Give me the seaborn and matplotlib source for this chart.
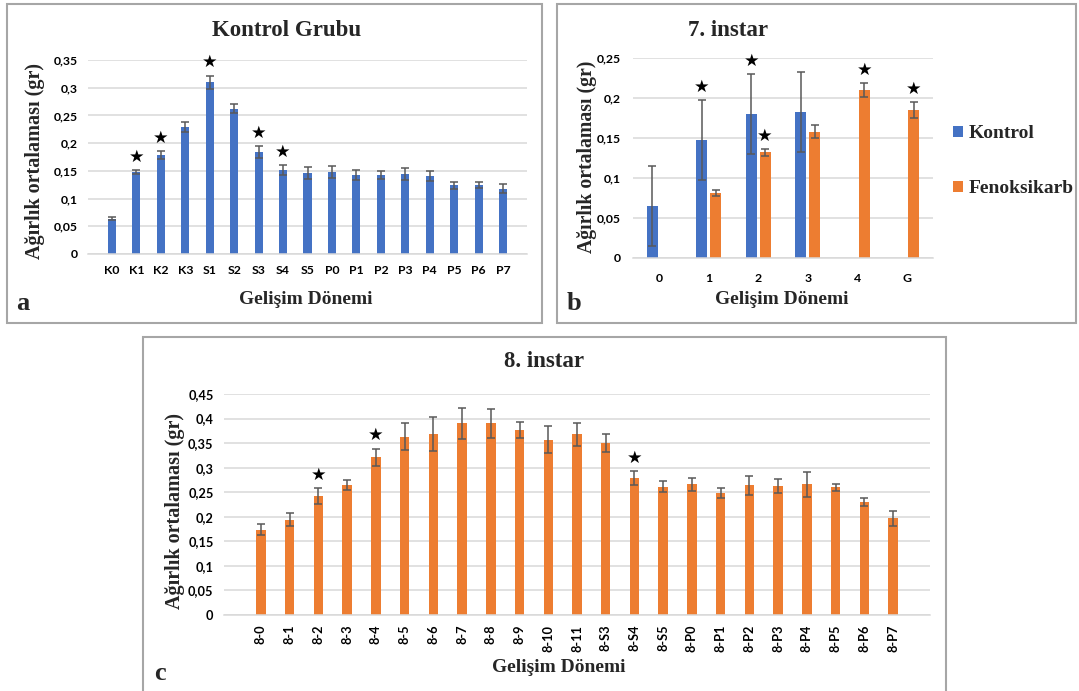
import numpy as np
import pandas as pd
import matplotlib
matplotlib.use("Agg")
import matplotlib.pyplot as plt
import seaborn as sns
from matplotlib.patches import Rectangle
from matplotlib.ticker import FuncFormatter, MultipleLocator

# ---------------- data ----------------
# Panel a: Kontrol Grubu
stages_a = ["K0", "K1", "K2", "K3", "S1", "S2", "S3", "S4", "S5",
            "P0", "P1", "P2", "P3", "P4", "P5", "P6", "P7"]
mean_a = [0.064, 0.148, 0.179, 0.230, 0.310, 0.262, 0.184, 0.152, 0.146,
          0.148, 0.143, 0.143, 0.144, 0.141, 0.124, 0.125, 0.118]
err_a = [0.003, 0.004, 0.0075, 0.009, 0.012, 0.008, 0.010, 0.009, 0.011,
         0.010, 0.009, 0.0075, 0.011, 0.009, 0.0065, 0.0055, 0.008]
star_a = ["K1", "K2", "S1", "S3", "S4"]

# Panel b: 7. instar
stages_b = ["0", "1", "2", "3", "4", "G"]
groups_b = ["Kontrol", "Fenoksikarb"]
kontrol_b = [0.065, 0.148, 0.180, 0.183, None, None]
kontrol_err_b = [0.050, 0.050, 0.050, 0.050, None, None]
feno_b = [None, 0.081, 0.132, 0.158, 0.210, 0.185]
feno_err_b = [None, 0.0037, 0.0046, 0.0077, 0.009, 0.0098]
star_b_kontrol = ["1", "2"]
star_b_feno = ["2", "4", "G"]

# Panel c: 8. instar
stages_c = ["8-0", "8-1", "8-2", "8-3", "8-4", "8-5", "8-6", "8-7", "8-8",
            "8-9", "8-10", "8-11", "8-S3", "8-S4", "8-S5", "8-P0", "8-P1",
            "8-P2", "8-P3", "8-P4", "8-P5", "8-P6", "8-P7"]
mean_c = [0.174, 0.194, 0.243, 0.265, 0.321, 0.363, 0.369, 0.390, 0.390,
          0.377, 0.357, 0.368, 0.350, 0.279, 0.261, 0.266, 0.249,
          0.264, 0.262, 0.266, 0.260, 0.230, 0.197]
err_c = [0.011, 0.013, 0.016, 0.010, 0.018, 0.028, 0.035, 0.031, 0.029,
         0.016, 0.027, 0.023, 0.019, 0.0135, 0.011, 0.013, 0.010,
         0.020, 0.014, 0.025, 0.0075, 0.009, 0.015]
star_c = ["8-2", "8-4", "8-S4"]

# ---------------- style ----------------
BLUE = "#4472C4"
ORANGE = "#ED7D31"
ERRC = "#595959"
GRID = "#D9D9D9"
FRAME = "#A6A6A6"
SERIF = "Liberation Serif"
TICKFONT = "Lato"

sns.set_style("white")
plt.rcParams["font.family"] = [TICKFONT, "DejaVu Sans"]
plt.rcParams["font.weight"] = "bold"

W, H = 1079, 691
fig = plt.figure(figsize=(W / 100, H / 100), dpi=100)


def fx(x):
    return x / W


def fy(y):
    return 1 - y / H


def add_axes_px(x0, y0, x1, y1):
    return fig.add_axes([fx(x0), fy(y1), fx(x1 - x0), (y1 - y0) / H])


def frame(x0, y0, x1, y1):
    fig.patches.append(Rectangle((fx(x0), fy(y1)), fx(x1 - x0), (y1 - y0) / H,
                                 transform=fig.transFigure, fill=False,
                                 edgecolor=FRAME, lw=1.5, zorder=0))


def fmt(v, pos):
    return f"{round(v, 2):g}".replace(".", ",")


def style(ax, ymax, step, fs, xpad, ypad):
    ax.set_ylim(0, ymax)
    ax.yaxis.set_major_locator(MultipleLocator(step))
    ax.yaxis.set_major_formatter(FuncFormatter(fmt))
    ax.grid(axis="y", color=GRID, lw=1.1)
    ax.grid(axis="x", visible=False)
    ax.set_axisbelow(True)
    for s in ["top", "right", "left"]:
        ax.spines[s].set_visible(False)
    ax.spines["bottom"].set_color(GRID)
    ax.spines["bottom"].set_linewidth(1.1)
    ax.tick_params(axis="both", length=0, labelsize=fs, colors="#000000")
    ax.tick_params(axis="x", pad=xpad)
    ax.tick_params(axis="y", pad=ypad)
    ax.set_xlabel("")
    ax.set_ylabel("")


def errbars(ax, xs, ys, es):
    ax.errorbar(xs, ys, yerr=es, fmt="none", ecolor=ERRC, elinewidth=1.1,
                capsize=2.6, capthick=1.1, zorder=5)


def star(ax, x, ytop):
    ax.annotate("\u2605", xy=(x, ytop), xytext=(0, 3), textcoords="offset points",
                ha="center", va="bottom", fontsize=12.5, family="DejaVu Sans",
                color="black")


# frames
frame(7, 4, 542, 323)
frame(557, 4, 1076, 323)
frame(143, 337, 946, 700)

# ---------------- panel a ----------------
axa = add_axes_px(88, 60, 527, 254)
sns.barplot(x=stages_a, y=mean_a, color=BLUE, width=0.33, errorbar=None,
            saturation=1, linewidth=0, ax=axa)
xa = [p.get_x() + p.get_width() / 2 for p in axa.patches]
errbars(axa, xa, mean_a, err_a)
for i, s in enumerate(stages_a):
    if s in star_a:
        star(axa, xa[i], mean_a[i] + err_a[i])
style(axa, 0.35, 0.05, 8.8, 8, 7.5)

# ---------------- panel b ----------------
rows = []
for i, s in enumerate(stages_b):
    if kontrol_b[i] is not None:
        rows.append((s, "Kontrol", kontrol_b[i], kontrol_err_b[i]))
    if feno_b[i] is not None:
        rows.append((s, "Fenoksikarb", feno_b[i], feno_err_b[i]))
df_b = pd.DataFrame(rows, columns=["stage", "group", "mean", "err"])

axb = add_axes_px(633, 58, 933, 258)
sns.barplot(data=df_b, x="stage", y="mean", hue="group", order=stages_b,
            hue_order=groups_b, palette=[BLUE, ORANGE], width=0.56, gap=0.2,
            errorbar=None, saturation=1, linewidth=0, ax=axb)
for p in axb.patches:
    if p.get_height() == 0 or np.isnan(p.get_height()):
        continue
    cx = p.get_x() + p.get_width() / 2
    idx = int(round(cx))
    if idx < 0 or idx >= len(stages_b):
        continue
    grp = groups_b[0] if cx < idx else groups_b[1]
    r = df_b[(df_b["stage"] == stages_b[idx]) & (df_b["group"] == grp)]
    if r.empty:
        continue
    m, e = float(r["mean"].iloc[0]), float(r["err"].iloc[0])
    errbars(axb, [cx], [m], [e])
    if (grp == "Kontrol" and stages_b[idx] in star_b_kontrol) or \
       (grp == "Fenoksikarb" and stages_b[idx] in star_b_feno):
        star(axb, cx, m + e)
style(axb, 0.25, 0.05, 8.8, 11, 8.5)
handles, labels = axb.get_legend_handles_labels()
if axb.get_legend() is not None:
    axb.get_legend().remove()
fig.legend(handles, labels, loc="center left",
           bbox_to_anchor=(fx(953), fy(161)), bbox_transform=fig.transFigure,
           frameon=False, prop={"family": SERIF, "weight": "bold", "size": 14},
           handlelength=0.5, handleheight=0.5, handletextpad=0.3,
           labelspacing=1.95, borderpad=0, borderaxespad=0)

# ---------------- panel c ----------------
axc = add_axes_px(224, 394, 930, 615)
sns.barplot(x=stages_c, y=mean_c, color=ORANGE, width=0.33, errorbar=None,
            saturation=1, linewidth=0, ax=axc)
xc = [p.get_x() + p.get_width() / 2 for p in axc.patches]
errbars(axc, xc, mean_c, err_c)
for i, s in enumerate(stages_c):
    if s in star_c:
        star(axc, xc[i], mean_c[i] + err_c[i])
style(axc, 0.45, 0.05, 9.2, 7, 7.5)
axc.tick_params(axis="x", labelrotation=90)

# ---------------- texts ----------------
tkw = dict(family=SERIF, weight="bold", ha="center", va="center")
fig.text(fx(287), fy(30), "Kontrol Grubu", fontsize=16.5, **tkw)
fig.text(fx(728), fy(30), "7. instar", fontsize=16.5, **tkw)
fig.text(fx(544), fy(362), "8. instar", fontsize=16.5, **tkw)

fig.text(fx(306), fy(300), "Gelişim Dönemi", fontsize=14, **tkw)
fig.text(fx(782), fy(300), "Gelişim Dönemi", fontsize=14, **tkw)
fig.text(fx(559), fy(667), "Gelişim Dönemi", fontsize=14, **tkw)

fig.text(fx(35), fy(161), "Ağırlık ortalaması (gr)", fontsize=14.5, rotation=90, **tkw)
fig.text(fx(587), fy(157), "Ağırlık ortalaması (gr)", fontsize=14.2, rotation=90, **tkw)
fig.text(fx(175), fy(511), "Ağırlık ortalaması (gr)", fontsize=14.5, rotation=90, **tkw)

fig.text(fx(23), fy(304), "a", fontsize=19, **tkw)
fig.text(fx(574), fy(303), "b", fontsize=19, **tkw)
fig.text(fx(160), fy(674), "c", fontsize=19, **tkw)

fig.savefig("out.png", dpi=100)
